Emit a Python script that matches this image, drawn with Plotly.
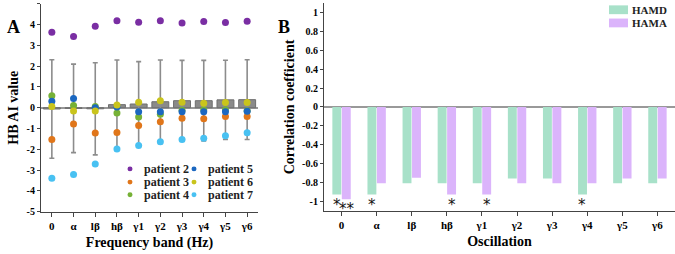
import plotly.graph_objects as go

bands = ["0", "α", "lβ", "hβ", "γ1", "γ2", "γ3", "γ4", "γ5", "γ6"]

# Panel A: group mean and SD
mean_ai = [-0.06, -0.03, -0.05, 0.15, 0.18, 0.29, 0.34, 0.34, 0.38, 0.39]
sd_ai = [2.37, 2.13, 2.22, 2.15, 2.04, 2.01, 1.94, 1.94, 1.91, 1.92]

patient_names = ["patient 2", "patient 3", "patient 4", "patient 5", "patient 6", "patient 7"]
patient_colors = ["#7a2ea3", "#e0761a", "#76b136", "#1b67c0", "#c9c41c", "#48c1f2"]
p2 = [3.64, 3.43, 3.93, 4.19, 4.12, 4.19, 4.08, 4.15, 4.10, 4.16]
p3 = [-1.53, -0.78, -1.22, -1.19, -0.86, -0.67, -0.50, -0.53, -0.42, -0.42]
p4 = [0.58, 0.11, 0.06, -0.25, -0.44, -0.31, -0.12, -0.10, -0.10, -0.14]
p5 = [0.31, 0.44, 0.00, 0.03, -0.19, -0.19, -0.19, -0.19, -0.19, -0.17]
p6 = [0.06, -0.16, -0.16, 0.13, 0.27, 0.34, 0.27, 0.22, 0.25, 0.25]
p7 = [-3.40, -3.21, -2.71, -1.99, -1.82, -1.64, -1.53, -1.47, -1.35, -1.20]
patients = [p2, p3, p4, p5, p6, p7]

# Panel B: correlation coefficients
hamd = [-0.93, -0.93, -0.81, -0.81, -0.81, -0.76, -0.76, -0.93, -0.81, -0.81]
hama = [-0.98, -0.81, -0.75, -0.93, -0.93, -0.81, -0.81, -0.81, -0.76, -0.76]
hamd_sig = ["*", "*", "", "", "", "", "", "*", "", ""]
hama_sig = ["**", "", "", "*", "*", "", "", "", "", ""]

ya_ticks = [5, 4, 3, 2, 1, 0, -1, -2, -3, -4, -5]
ya_text = ["5", "4", "3", "2", "1", "0", "-1", "-2", "-3", "-4", "-5"]
yb_ticks = [1, 0.8, 0.6, 0.4, 0.2, 0, -0.2, -0.4, -0.6, -0.8, -1]
yb_text = ["1", "0.8", "0.6", "0.4", "0.2", "0", "-0.2", "-0.4", "-0.6", "-0.8", "-1"]

GREEN = "#a8e1c9"
PURPLE = "#dbb4fb"
SERIF = "Liberation Serif, Times New Roman, serif"

fig = go.Figure()

fig.add_trace(go.Bar(
    x=bands, y=mean_ai, width=0.78, marker=dict(color="#8a8a8a", line=dict(color="#6e6e6e", width=1)),
    error_y=dict(type="data", array=sd_ai, color="#8c8c8c", thickness=1.6, width=2.5),
    xaxis="x", yaxis="y", showlegend=False))

for name, col, vals in zip(patient_names, patient_colors, patients):
    fig.add_trace(go.Scatter(
        x=bands, y=vals, mode="markers", name=name,
        marker=dict(color=col, size=7), xaxis="x", yaxis="y", showlegend=False))

fig.add_trace(go.Bar(x=bands, y=hamd, name="HAMD", marker=dict(color=GREEN, line=dict(width=0)),
                     xaxis="x2", yaxis="y2", showlegend=False))
fig.add_trace(go.Bar(x=bands, y=hama, name="HAMA", marker=dict(color=PURPLE, line=dict(width=0)),
                     xaxis="x2", yaxis="y2", showlegend=False))

star_font = dict(family="DejaVu Sans", size=15, color="#111")
ann = []
for i, b in enumerate(bands):
    if hamd_sig[i]:
        ann.append(dict(x=b, y=hamd[i], xref="x2", yref="y2", text=hamd_sig[i], showarrow=False,
                        xshift=-5, yanchor="top", yshift=1, font=star_font))
    if hama_sig[i]:
        ann.append(dict(x=b, y=hama[i], xref="x2", yref="y2", text=hama_sig[i], showarrow=False,
                        xshift=5, yanchor="top", yshift=1, font=star_font))

# panel labels
ann.append(dict(x=13 / 675, y=1 - 15 / 254, xref="paper", yref="paper", text="<b>A</b>", showarrow=False,
                xanchor="center", font=dict(family=SERIF, size=18, color="black")))
ann.append(dict(x=284 / 675, y=1 - 15 / 254, xref="paper", yref="paper", text="<b>B</b>", showarrow=False,
                xanchor="center", font=dict(family=SERIF, size=18, color="black")))

# Panel A legend (two columns)
shapes = []
rows_y = [173, 186.5, 199.5]
for k, (name, col) in enumerate(zip(patient_names, patient_colors)):
    colx = 130 if k < 3 else 194
    ry = rows_y[k % 3]
    shapes.append(dict(type="circle", xref="paper", yref="paper",
                       x0=(colx - 2.5) / 675, x1=(colx + 2.5) / 675,
                       y0=1 - (ry + 2.5) / 254, y1=1 - (ry - 2.5) / 254,
                       fillcolor=col, line=dict(width=0)))
    ann.append(dict(x=(colx + 12) / 675, y=1 - ry / 254, xref="paper", yref="paper",
                    text="<b>" + name + "</b>", showarrow=False, xanchor="left", yanchor="middle",
                    font=dict(family=SERIF, size=12, color="#222")))

# Panel B legend
for name, col, ry in [("HAMD", GREEN, 10), ("HAMA", PURPLE, 23.5)]:
    shapes.append(dict(type="rect", xref="paper", yref="paper",
                       x0=609 / 675, x1=628 / 675, y0=1 - (ry + 4.5) / 254, y1=1 - (ry - 4.5) / 254,
                       fillcolor=col, line=dict(width=0)))
    ann.append(dict(x=630 / 675, y=1 - ry / 254, xref="paper", yref="paper",
                    text="<b>" + name + "</b>", showarrow=False, xanchor="left", yanchor="middle",
                    font=dict(family=SERIF, size=11, color="#222")))

tickfont = dict(family=SERIF, size=11, color="black", weight="bold")
titlefont = dict(family=SERIF, size=14, color="black", weight="bold")

fig.update_layout(
    width=675, height=254, margin=dict(l=0, r=0, t=0, b=0),
    paper_bgcolor="white", plot_bgcolor="white",
    barmode="group", bargap=0.46, bargroupgap=0.06,
    annotations=ann, shapes=shapes,
    xaxis=dict(domain=[41 / 675, 258 / 675], anchor="y", type="category", range=[-0.5, 9.5],
               showline=True, linecolor="#444", linewidth=1.2, ticks="outside", ticklen=4,
               tickcolor="#444", tickfont=tickfont, showgrid=False,
               title=dict(text="Frequency band (Hz)", font=titlefont, standoff=6)),
    yaxis=dict(domain=[1 - 216.7 / 254, 1 - 4 / 254], anchor="x", range=[-5, 5],
               tickvals=ya_ticks, ticktext=ya_text,
               showline=True, linecolor="#444", linewidth=1.2, ticks="outside", ticklen=3,
               tickcolor="#444", tickfont=dict(family=SERIF, size=10, color="black", weight="bold"),
               showgrid=False, zeroline=True, zerolinecolor="#999", zerolinewidth=1.5,
               title=dict(text="HB AI value", font=titlefont, standoff=4)),
    xaxis2=dict(domain=[324 / 675, 1.0], anchor="y2", type="category", range=[-0.5, 9.5],
                showline=True, linecolor="#444", linewidth=1.2, ticks="outside", ticklen=4,
                tickcolor="#444", tickfont=tickfont, showgrid=False,
                title=dict(text="Oscillation", font=titlefont, standoff=6)),
    yaxis2=dict(domain=[1 - 215.7 / 254, 1 - 3.4 / 254], anchor="x2", range=[-1.1, 1.1],
                tickvals=yb_ticks, ticktext=yb_text,
                showline=True, linecolor="#444", linewidth=1.2, ticks="outside", ticklen=3,
                tickcolor="#444", tickfont=dict(family=SERIF, size=10, color="black", weight="bold"),
                showgrid=False, zeroline=True, zerolinecolor="#999", zerolinewidth=1.5,
                title=dict(text="Correlation coefficient", font=titlefont, standoff=4)),
)

fig.write_html("out.html", config={"displayModeBar": False},
               post_script="document.body.style.margin='0';document.body.style.overflow='hidden';")
